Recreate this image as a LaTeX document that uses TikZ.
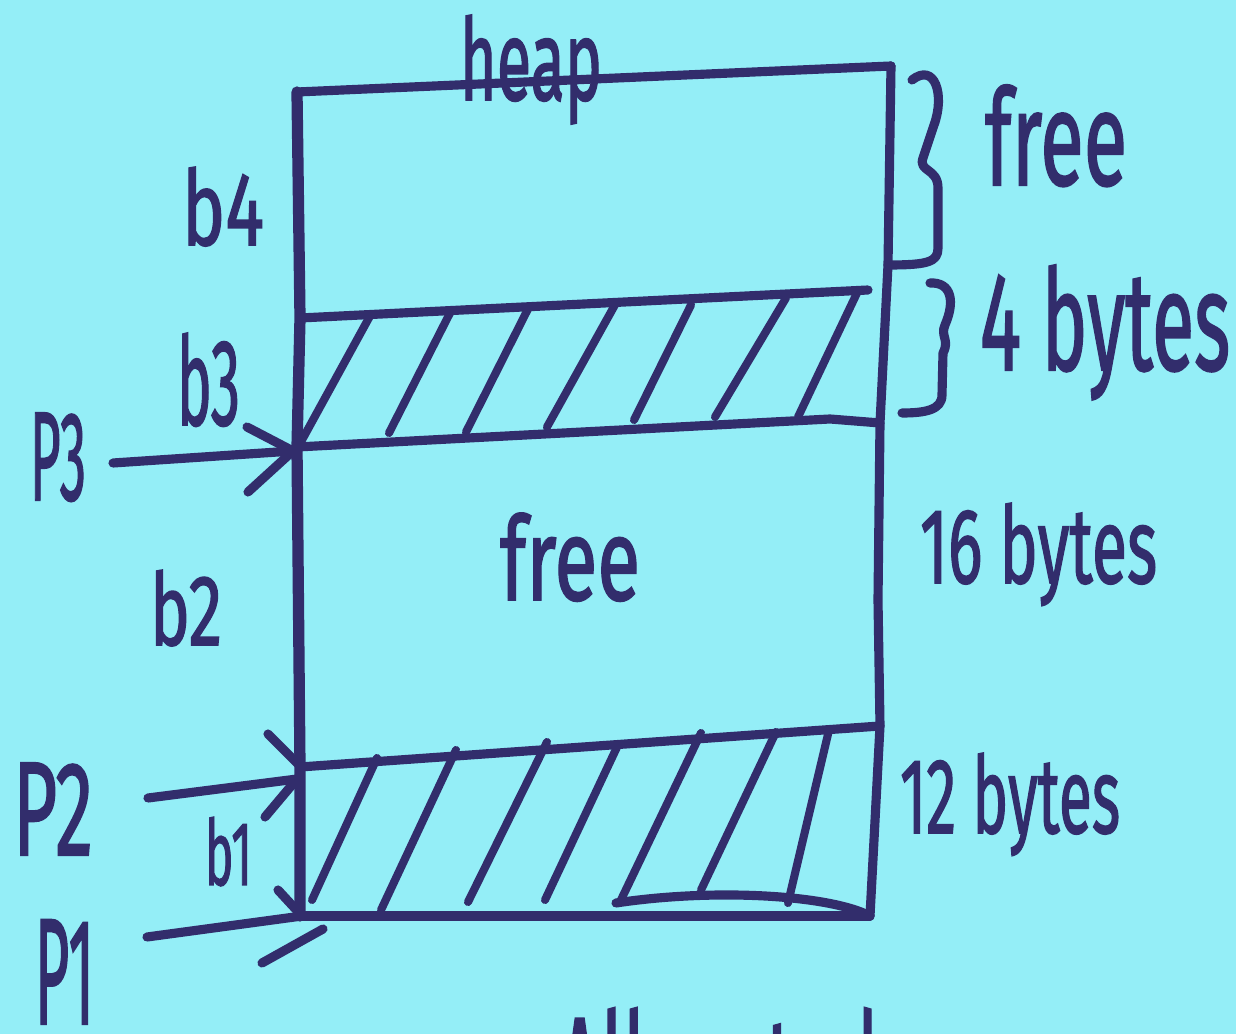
\documentclass[tikz,border=0pt]{standalone}
\usepackage{fontspec}
\usepackage{graphicx}
\setmainfont{Fira Sans}
\newfontfamily\inkfont[FakeBold=1.6]{Fira Sans}
\definecolor{paper}{RGB}{148,238,247}
\definecolor{ink}{RGB}{50,45,108}
% hand label: width (cm), ascender height (cm), text
\newcommand{\handlabel}[3]{\resizebox{#1cm}{#2cm}{\inkfont #3}}
\tikzset{
  pen/.style={draw=ink, line width=2.6pt, line cap=round, line join=round},
  hatch/.style={draw=ink, line width=2.3pt, line cap=round},
  lbl/.style={anchor=base west, inner sep=0pt, outer sep=0pt, text=ink},
}
\begin{document}
\begin{tikzpicture}[x=0.01cm, y=-0.01cm]
  \useasboundingbox (0,0) rectangle (1236,1034);
  \fill[paper] (0,0) rectangle (1236,1034);

  % corners of the heap column
  \coordinate (tl) at (297,92);
  \coordinate (tr) at (891,66);
  \coordinate (b4l) at (300,318);
  \coordinate (b4r) at (868,290);
  \coordinate (b3l) at (297,447);
  \coordinate (b3r) at (880,423);
  \coordinate (b2l) at (300,767);
  \coordinate (b2r) at (880,726);
  \coordinate (bl) at (300,916);
  \coordinate (br) at (870,916);

  % outline of the heap
  \path[pen] (tl) -- (tr);
  \path[pen, line width=3.2pt] (tl) -- (b4l) -- (b3l) -- (b2l) -- (bl);
  \path[pen] (tr) -- (888,265) -- (b3r) -- (878,600) -- (b2r) -- (br);
  \path[pen] (b4l) -- (b4r);
  \path[pen] (b3l) -- (830,419) -- (b3r);
  \path[pen] (b2l) -- (b2r);
  \path[pen] (bl) -- (br);
  \path[pen] (616,903) .. controls (715,888) and (830,895) .. (br);

  % hatching of the used block b3
  \foreach \xa/\ya/\xb/\yb in {302/440/370/316, 389/433/450/313, 466/432/529/307,
      547/427/616/303, 634/420/691/305, 715/417/786/298, 798/417/857/293}
    \path[hatch] (\xa,\ya) -- (\xb,\yb);

  % hatching of the used block b1
  \foreach \xa/\ya/\xb/\yb in {312/900/377/758, 381/910/456/750, 468/902/547/742,
      545/900/618/745, 620/902/701/733, 701/890/776/732, 788/903/829/730}
    \path[hatch] (\xa,\ya) -- (\xb,\yb);

  % braces on the right
  \path[pen] (912,80) .. controls (935,62) and (945,95) .. (934,125)
    -- (923,158) .. controls (918,172) and (938,168) .. (938,188)
    -- (938,248) .. controls (938,262) and (928,265) .. (888,265);
  \path[pen] (930,283) .. controls (952,282) and (955,302) .. (945,325)
    .. controls (940,336) and (950,340) .. (943,353)
    -- (942,395) .. controls (942,410) and (925,413) .. (902,413);

  % labels
  \node[lbl] (heap) at (460,100) {\handlabel{1.42}{0.85}{heap}};
  \node[lbl] (b4)   at (182,245) {\handlabel{0.82}{0.78}{b4}};
  \node[lbl] (b3)   at (177,425) {\handlabel{0.63}{0.92}{b3}};
  \node[lbl] (P3)   at (30,500)  {\handlabel{0.56}{0.87}{P3}};
  \node[lbl] (b2)   at (150,645) {\handlabel{0.72}{0.75}{b2}};
  \node[lbl] (P2)   at (13,855)  {\handlabel{0.80}{0.92}{P2}};
  \node[lbl] (b1)   at (205,885) {\handlabel{0.47}{0.68}{b1}};
  \node[lbl] (P1)   at (35,1024) {\handlabel{0.59}{1.04}{P1}};
  \node[lbl] (midfree) at (500,600) {\handlabel{1.40}{0.87}{free}};
  \node[lbl] (topfree) at (985,185) {\handlabel{1.42}{1.00}{free}};
  \node[lbl] (four)    at (980,370) {\handlabel{2.50}{1.05}{4 bytes}};
  \node[lbl] (sixteen) at (920,583) {\handlabel{2.37}{0.80}{16 bytes}};
  \node[lbl] (twelve)  at (900,833) {\handlabel{2.20}{0.80}{12 bytes}};
  % caption running off the lower edge
  \node[lbl] (caption) at (558,1140) {\handlabel{3.20}{1.32}{Allocated}};

  % pointer arrows
  \coordinate (p3tail) at (113,463);
  \coordinate (p2tail) at (148,798);
  \coordinate (p1tail) at (147,937);
  \coordinate (p3tip) at (293,451);
  \coordinate (p2tip) at (297,779);
  \coordinate (p1tip) at (302,916);
  \path[pen] (p3tail) -- (p3tip);
  \path[pen] (247,427) -- (p3tip) -- (248,492);
  \path[pen] (p2tail) -- (p2tip);
  \path[pen] (268,734) -- (300,766);
  \path[pen] (265,817) -- (p2tip);
  \path[pen] (p1tail) -- (p1tip);
  \path[pen] (278,890) -- (p1tip);
  \path[pen] (262,963) -- (323,929);
\end{tikzpicture}
\end{document}
